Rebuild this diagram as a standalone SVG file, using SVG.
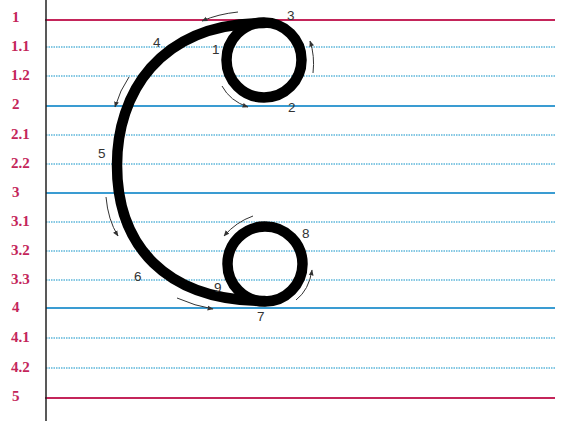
<svg xmlns="http://www.w3.org/2000/svg" width="566" height="421" viewBox="0 0 566 421">
  <style>
    .red { stroke: #c4255a; stroke-width: 2; fill: none; }
    .solid { stroke: #3a9cd2; stroke-width: 2; fill: none; }
    .dot { stroke: #5cb6da; stroke-width: 1.3; stroke-dasharray: 1.5 1; fill: none; }
    .lvl { font-family: "Liberation Serif", serif; font-weight: bold; font-size: 15px; fill: #c4255a; }
    .num { font-family: "Liberation Sans", Arial, sans-serif; font-size: 13.5px; fill: #333; }
    .stroke { stroke: #000; stroke-width: 10.5; fill: none; stroke-linecap: round; }
    .arr { stroke: #333; stroke-width: 1; fill: none; marker-end: url(#ah); }
  </style>
  <defs>
    <marker id="ah" viewBox="0 0 10 10" refX="9" refY="5" markerWidth="6" markerHeight="6" orient="auto-start-reverse" markerUnits="userSpaceOnUse">
      <path d="M0,1 L10,5 L0,9 Z" fill="#333"/>
    </marker>
  </defs>
  <rect width="566" height="421" fill="#fff"/>

  <g id="ruling">
    <line class="red" x1="45" y1="20" x2="555" y2="20"/>
    <line class="dot" x1="46" y1="47" x2="555" y2="47"/>
    <line class="dot" x1="46" y1="76" x2="555" y2="76"/>
    <line class="solid" x1="46" y1="106" x2="555" y2="106"/>
    <line class="dot" x1="46" y1="135" x2="555" y2="135"/>
    <line class="dot" x1="46" y1="164" x2="555" y2="164"/>
    <line class="solid" x1="46" y1="193" x2="555" y2="193"/>
    <line class="dot" x1="46" y1="222" x2="555" y2="222"/>
    <line class="dot" x1="46" y1="251" x2="555" y2="251"/>
    <line class="dot" x1="46" y1="280" x2="555" y2="280"/>
    <line class="solid" x1="46" y1="308" x2="555" y2="308"/>
    <line class="dot" x1="46" y1="338" x2="555" y2="338"/>
    <line class="dot" x1="46" y1="368" x2="555" y2="368"/>
    <line class="red" x1="45" y1="398" x2="555" y2="398"/>
    <line x1="46" y1="0" x2="46" y2="421" stroke="#222" stroke-width="1.5"/>
  </g>

  <g id="levels">
    <text class="lvl" x="12" y="22">1</text>
    <text class="lvl" x="11" y="51">1.1</text>
    <text class="lvl" x="11" y="80">1.2</text>
    <text class="lvl" x="12" y="109">2</text>
    <text class="lvl" x="11" y="139">2.1</text>
    <text class="lvl" x="11" y="168">2.2</text>
    <text class="lvl" x="12" y="197">3</text>
    <text class="lvl" x="11" y="226">3.1</text>
    <text class="lvl" x="11" y="255">3.2</text>
    <text class="lvl" x="11" y="284">3.3</text>
    <text class="lvl" x="12" y="312">4</text>
    <text class="lvl" x="11" y="342">4.1</text>
    <text class="lvl" x="11" y="372">4.2</text>
    <text class="lvl" x="12" y="401">5</text>
  </g>

  <g id="letter">
    <circle class="stroke" cx="264" cy="60" r="37.5"/>
    <circle class="stroke" cx="265" cy="264" r="37.5"/>
    <path class="stroke" d="M264,23 C158,23 117,95 117,165 C117,245 165,301 265,301"/>
  </g>

  <g id="connectors">
    <path class="arr" d="M238,12 Q218,14 202,21"/>
    <path class="arr" d="M222,86 Q230,101 248,107"/>
    <path class="arr" d="M313,73 Q315,56 310,41"/>
    <path class="arr" d="M129,77 Q120,90 115,107"/>
    <path class="arr" d="M106,197 Q108,220 118,236"/>
    <path class="arr" d="M177,298 Q195,306 213,309"/>
    <path class="arr" d="M296,300 Q309,290 312,270"/>
    <path class="arr" d="M253,216 Q236,222 224,236"/>
  </g>

  <g id="labels">
    <text class="num" x="212" y="54">1</text>
    <text class="num" x="288" y="112">2</text>
    <text class="num" x="287" y="20">3</text>
    <text class="num" x="153" y="47">4</text>
    <text class="num" x="98" y="158">5</text>
    <text class="num" x="134" y="281">6</text>
    <text class="num" x="257" y="321">7</text>
    <text class="num" x="302" y="238">8</text>
    <text class="num" x="214" y="292">9</text>
  </g>
</svg>
